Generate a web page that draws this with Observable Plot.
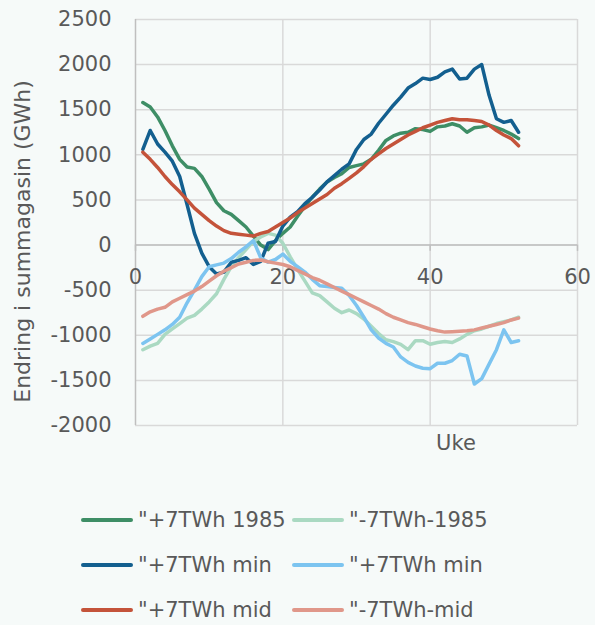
<!DOCTYPE html>
<html>
<head>
<meta charset="utf-8">
<script src="https://cdn.jsdelivr.net/npm/d3@7"></script>
<script src="https://cdn.jsdelivr.net/npm/@observablehq/plot@0.6"></script>
<style>
  html, body { margin: 0; padding: 0; background: #f6faf9; }
  body { width: 595px; height: 625px; position: relative; overflow: hidden; font-family: "DejaVu Sans", sans-serif; color: #595959; }
  #chart { position: absolute; left: 0; top: 0; }
  #legend { position: absolute; left: 0; top: 495px; width: 595px; }
  .item { position: absolute; display: flex; align-items: center; height: 30px; font-size: 21px; color: #595959; white-space: nowrap; }
  .sw { width: 52px; height: 4px; border-radius: 2px; margin-right: 5px; }
</style>
</head>
<body>
<div id="chart"></div>
<div id="legend"></div>
<script>
const weeks = [1,2,3,4,5,6,7,8,9,10,11,12,13,14,15,16,17,18,19,20,21,22,23,24,25,26,27,28,29,30,31,32,33,34,35,36,37,38,39,40,41,42,43,44,45,46,47,48,49,50,51,52];

const seriesNames = ["\"+7TWh 1985", "\"-7TWh-1985", "\"+7TWh min", "\"+7TWh min", "\"+7TWh mid", "\"-7TWh-mid"];
const seriesColors = ["#3e8e66", "#aad9c2", "#135f8f", "#7cc4f0", "#c4533a", "#e0978a"];

const plus1985 = [1580,1530,1420,1270,1100,950,865,850,760,620,470,380,340,270,200,100,0,-50,50,130,200,320,430,530,620,700,750,790,860,880,900,950,1050,1160,1210,1240,1250,1290,1280,1260,1310,1320,1345,1320,1250,1300,1310,1330,1300,1270,1230,1180];
const minus1985 = [-1160,-1120,-1090,-990,-930,-870,-810,-780,-710,-630,-540,-380,-240,-140,-50,40,90,130,110,20,-130,-270,-400,-530,-560,-630,-700,-750,-720,-760,-820,-900,-980,-1050,-1070,-1100,-1160,-1060,-1060,-1100,-1080,-1070,-1080,-1040,-990,-950,-930,-900,-870,-850,-830,-800];
const plusMin = [1060,1270,1120,1030,930,760,450,130,-90,-240,-320,-300,-190,-170,-140,-215,-180,20,40,210,310,370,460,530,610,700,770,840,900,1060,1170,1230,1350,1450,1550,1640,1740,1790,1850,1835,1860,1920,1950,1840,1850,1950,2000,1660,1400,1360,1380,1250];
const plusMin2 = [-1090,-1040,-990,-940,-880,-800,-640,-500,-350,-240,-220,-200,-150,-80,-20,50,-140,-190,-160,-100,-180,-240,-300,-380,-450,-460,-470,-480,-560,-670,-800,-940,-1030,-1090,-1130,-1240,-1300,-1340,-1365,-1370,-1310,-1310,-1280,-1210,-1230,-1540,-1480,-1320,-1160,-940,-1080,-1060];
const plusMid = [1030,950,860,760,670,590,500,410,340,270,210,160,130,120,110,100,130,150,200,250,300,360,410,460,510,560,630,680,740,800,870,950,1010,1070,1120,1170,1220,1260,1300,1330,1360,1380,1400,1390,1390,1380,1370,1330,1270,1220,1180,1100];
const minusMid = [-790,-740,-710,-690,-630,-590,-550,-510,-460,-400,-340,-290,-250,-210,-190,-170,-165,-185,-200,-215,-240,-280,-320,-360,-390,-430,-470,-510,-550,-590,-630,-670,-710,-760,-800,-830,-860,-880,-905,-930,-950,-965,-960,-955,-950,-940,-920,-900,-880,-860,-830,-810];

const xTicks = [0, 20, 40, 60];
const yTicks = [-2000,-1500,-1000,-500,0,500,1000,1500,2000,2500];
const yTitle = "Endring i summagasin (GWh)";
const xTitle = "Uke";

const allSeries = [plus1985, minus1985, plusMin, plusMin2, plusMid, minusMid];
const keys = allSeries.map((_, i) => "s" + i);
const rows = [];
allSeries.forEach((vals, i) => vals.forEach((v, j) => rows.push({key: keys[i], week: weeks[j], value: v})));

const font = "DejaVu Sans, sans-serif";
const chart = Plot.plot({
  width: 595,
  height: 495,
  marginLeft: 135,
  marginRight: 18,
  marginTop: 19,
  marginBottom: 70,
  style: {background: "transparent", fontFamily: font, fontSize: "21px", color: "#595959"},
  x: {domain: [0, 60], axis: null},
  y: {domain: [-2000, 2500], axis: null},
  color: {domain: keys, range: seriesColors},
  marks: [
    Plot.ruleY(yTicks, {stroke: "#d9d9d9", strokeWidth: 1.5}),
    Plot.ruleX(xTicks.filter(d => d > 0), {stroke: "#d9d9d9", strokeWidth: 1.5}),
    Plot.ruleX([0], {stroke: "#bfbfbf", strokeWidth: 1.5}),
    Plot.ruleY([0], {stroke: "#bfbfbf", strokeWidth: 1.5}),
    Plot.ruleX(xTicks, {y1: 0, y2: -70, stroke: "#bfbfbf", strokeWidth: 1.5}),
    Plot.axisY({ticks: yTicks, tickSize: 0, tickPadding: 24, label: null, fontSize: 21, fill: "#595959", tickFormat: d => String(d)}),
    Plot.text(xTicks, {x: d => d, y: 0, dy: 32, text: d => String(d), fontSize: 21, fill: "#595959"}),
    Plot.line(rows, {x: "week", y: "value", z: "key", stroke: "key", strokeWidth: 3.5, strokeLinejoin: "round", strokeLinecap: "round"}),
    Plot.text([xTitle], {x: 43.5, y: -2000, dy: 18, text: d => d, fontSize: 21, fill: "#595959"}),
    Plot.text([yTitle], {x: 0, y: 40, dx: -113, rotate: -90, textAnchor: "middle", text: d => d, fontSize: 22, fill: "#595959"})
  ]
});
document.getElementById("chart").appendChild(chart);

const legend = document.getElementById("legend");
const cols = [81, 292];
const rowY = [10, 55, 100];
seriesNames.forEach((name, i) => {
  const it = document.createElement("div");
  it.className = "item";
  it.style.left = cols[i % 2] + "px";
  it.style.top = rowY[Math.floor(i / 2)] + "px";
  const sw = document.createElement("div");
  sw.className = "sw";
  sw.style.background = seriesColors[i];
  const tx = document.createElement("span");
  tx.textContent = name;
  it.appendChild(sw);
  it.appendChild(tx);
  legend.appendChild(it);
});
</script>
</body>
</html>
